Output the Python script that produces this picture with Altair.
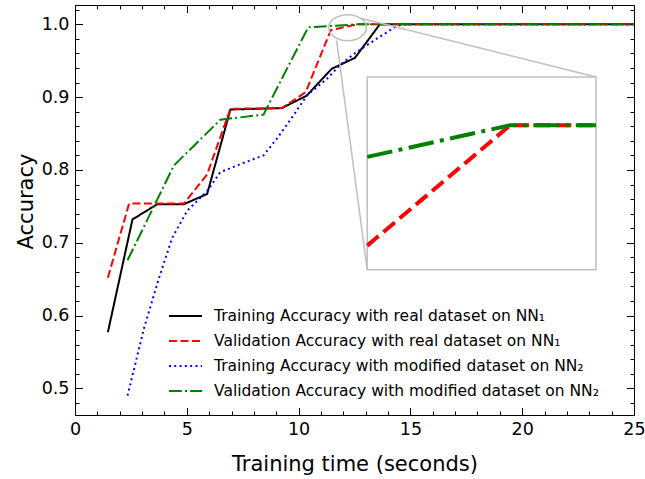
import altair as alt
import pandas as pd

# ---------------- data ----------------
SERIES = [
    "Training Accuracy with real dataset on NN\u2081",
    "Validation Accuracy with real dataset on NN\u2081",
    "Training Accuracy with modified dataset on NN\u2082",
    "Validation Accuracy with modified dataset on NN\u2082",
]
COLORS = ["#000000", "#ff0000", "#0000ff", "#008000"]
DASHES = [[1, 0], [8, 3.5], [2, 3.3], [12.8, 3.2, 2, 3.2]]

train_real_t = [1.47, 2.57, 3.68, 4.87, 5.91, 6.95, 9.25, 10.36, 11.48, 12.52, 13.63, 25]
train_real_acc = [0.577, 0.732, 0.753, 0.753, 0.767, 0.883, 0.885, 0.902, 0.939, 0.954, 1.0, 1.0]

val_real_t = [1.47, 2.42, 4.87, 5.91, 6.95, 9.25, 10.32, 11.44, 12.6, 25]
val_real_acc = [0.652, 0.754, 0.754, 0.794, 0.884, 0.885, 0.907, 0.992, 1.0, 1.0]

train_mod_t = [2.35, 3.09, 3.76, 4.35, 5.02, 5.91, 6.5, 7.39, 8.43, 9.03, 9.77,
               10.36, 11.26, 11.85, 12.59, 13.48, 14.3, 14.6, 25]
train_mod_acc = [0.490, 0.583, 0.652, 0.707, 0.744, 0.771, 0.797, 0.808, 0.820, 0.843, 0.875,
                 0.902, 0.925, 0.944, 0.962, 0.980, 0.996, 1.0, 1.0]

val_mod_t = [2.35, 4.42, 6.5, 8.43, 10.43, 12.6, 25]
val_mod_acc = [0.676, 0.806, 0.869, 0.876, 0.996, 1.0, 1.0]

# zoomed inset (its own units)
inset_red_t = [11.8, 12.675, 13.2]
inset_red_acc = [0.9943, 1.0, 1.0]
inset_green_t = [11.8, 12.675, 13.2]
inset_green_acc = [0.9985, 1.0, 1.0]

# ticks
X_LABELS = [0, 5, 10, 15, 20, 25]
Y_LABELS = [0.5, 0.6, 0.7, 0.8, 0.9, 1.0]
X_TICKS = list(range(0, 26))
Y_TICKS = [round(0.48 + 0.02 * i, 2) for i in range(28)]

# ---------------- layout constants ----------------
W, H = 559, 410
XDOM = [0, 25]
YDOM = [0.4634, 1.0266]
INSET_XDOM = [11.8, 13.2]
INSET_YDOM = [0.99316, 1.00228]
BOX = dict(x0=13.07, x1=23.3, y0=0.663, y1=0.9276)
FONT = "DejaVu Sans"
GRAY = "#bfbfbf"

xscale = alt.Scale(domain=XDOM, nice=False, zero=False)
yscale = alt.Scale(domain=YDOM, nice=False, zero=False)

series_data = [
    (train_real_t, train_real_acc),
    (val_real_t, val_real_acc),
    (train_mod_t, train_mod_acc),
    (val_mod_t, val_mod_acc),
]

legend = alt.Legend(
    title=None, orient="none", legendX=93, legendY=298.5,
    symbolType="stroke", symbolSize=1089, symbolStrokeWidth=2,
    labelFont=FONT, labelFontSize=15.5, labelColor="black", labelLimit=0,
    labelOffset=11, clipHeight=25, rowPadding=0, padding=0,
)
color_enc = alt.Color("series:N", scale=alt.Scale(domain=SERIES, range=COLORS), legend=legend)
dash_enc = alt.StrokeDash("series:N", scale=alt.Scale(domain=SERIES, range=DASHES), legend=legend)

x_label_axis = alt.Axis(
    orient="bottom", values=X_LABELS, ticks=False, domain=False, grid=False,
    labelFont=FONT, labelFontSize=17.5, labelColor="black", labelPadding=5,
    labelFlush=False, labelOverlap=False,
    title="Training time (seconds)", titleFont=FONT, titleFontSize=21,
    titleFontWeight="normal", titleColor="black", titleBaseline="alphabetic", titleY=55,
)
y_label_axis = alt.Axis(
    orient="left", values=Y_LABELS, format=".1f", ticks=False, domain=False, grid=False,
    labelFont=FONT, labelFontSize=17.5, labelColor="black", labelPadding=6,
    labelFlush=False, labelOverlap=False,
    title="Accuracy", titleFont=FONT, titleFontSize=21, titleFontWeight="normal",
    titleColor="black", titleAlign="center", titleBaseline="alphabetic",
    titleX=-43, titleY=196,
)

x_major = "datum.value % 5 === 0"
y_major = "abs(datum.value * 10 - round(datum.value * 10)) < 0.0001"


def tick_axis(orient, values, test, offset):
    return alt.Axis(
        orient=orient, offset=offset, values=values, labels=False, domain=False,
        grid=False, ticks=True, tickColor="black", tickWidth=1,
        tickSize={"condition": {"test": test, "value": 7.5}, "value": 4},
        title=None,
    )


layers = []
for i, (name, (ts, accs)) in enumerate(zip(SERIES, series_data)):
    df = pd.DataFrame({"t": ts, "acc": accs, "series": name})
    layers.append(
        alt.Chart(df).mark_line(strokeWidth=2, clip=True).encode(
            x=alt.X("t:Q", scale=xscale, axis=x_label_axis if i == 0 else None),
            y=alt.Y("acc:Q", scale=yscale, axis=y_label_axis if i == 0 else None),
            color=color_enc,
            strokeDash=dash_enc,
        )
    )

# connector lines (carry top / right inward tick axes)
conn_df = pd.DataFrame({
    "xa": [11.7, 12.83], "ya": [0.978, 1.008],
    "xb": [BOX["x0"], BOX["x1"]], "yb": [BOX["y0"], BOX["y1"]],
})
layers.append(
    alt.Chart(conn_df).mark_rule(color=GRAY, strokeWidth=1.5).encode(
        x=alt.X("xa:Q", scale=xscale, axis=tick_axis("bottom", X_TICKS, x_major, -H)),
        y=alt.Y("ya:Q", scale=yscale, axis=tick_axis("left", Y_TICKS, y_major, -W)),
        x2="xb:Q", y2="yb:Q",
    )
)

# inset frame (carries bottom / left inward tick axes)
box_df = pd.DataFrame([BOX])
layers.append(
    alt.Chart(box_df).mark_rect(fill="white", stroke=GRAY, strokeWidth=1.5).encode(
        x=alt.X("x0:Q", scale=xscale, axis=tick_axis("top", X_TICKS, x_major, -H)),
        y=alt.Y("y0:Q", scale=yscale, axis=tick_axis("right", Y_TICKS, y_major, -W)),
        x2="x1:Q", y2="y1:Q",
    )
)

# inset lines, mapped into the inset frame
def inset_layer(ts, accs, color, dash):
    df = pd.DataFrame({"t": ts, "acc": accs})
    return (
        alt.Chart(df)
        .transform_calculate(
            mx=f"{BOX['x0']} + (datum.t - {INSET_XDOM[0]}) / {INSET_XDOM[1] - INSET_XDOM[0]} * {BOX['x1'] - BOX['x0']}",
            my=f"{BOX['y0']} + (datum.acc - {INSET_YDOM[0]}) / {INSET_YDOM[1] - INSET_YDOM[0]} * {BOX['y1'] - BOX['y0']}",
        )
        .mark_line(strokeWidth=4, color=color, strokeDash=dash)
        .encode(
            x=alt.X("mx:Q", scale=xscale, axis=None),
            y=alt.Y("my:Q", scale=yscale, axis=None),
        )
    )

layers.append(inset_layer(inset_red_t, inset_red_acc, "#ff0000", [14.8, 6.4]))
layers.append(inset_layer(inset_green_t, inset_green_acc, "#008000", [25.6, 6.4, 4, 6.4]))

# zoom ellipse
ell_df = pd.DataFrame({"cx": [12.19], "cy": [0.9955]})
ellipse_path = "M -1 0 A 1 0.69 0 1 0 1 0 A 1 0.69 0 1 0 -1 0 Z"
layers.append(
    alt.Chart(ell_df).mark_point(shape=ellipse_path, size=1421, filled=False,
                                 color=GRAY, strokeWidth=1.5, opacity=1).encode(
        x=alt.X("cx:Q", scale=xscale, axis=None),
        y=alt.Y("cy:Q", scale=yscale, axis=None),
    )
)

chart = (
    alt.layer(*layers)
    .resolve_axis(x="independent", y="independent")
    .properties(
        width=W, height=H,
        autosize=alt.AutoSizeParams(type="none"),
        padding={"left": 75, "top": 5, "right": 11, "bottom": 64},
        background="white",
    )
    .configure_view(stroke="black", strokeWidth=1)
)

chart.save("out.html", embed_options={"renderer": "svg", "actions": False})
